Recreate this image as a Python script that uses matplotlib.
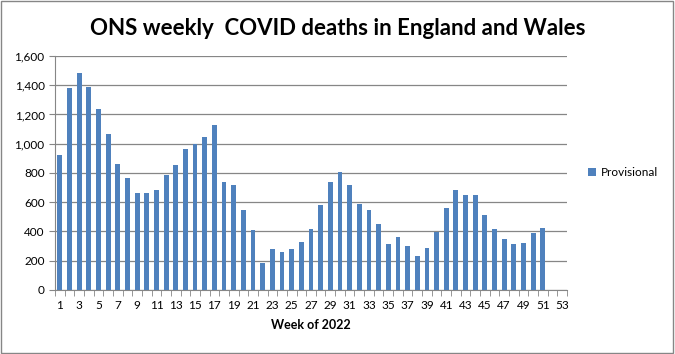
import numpy as np
import matplotlib.pyplot as plt
from matplotlib.patches import Rectangle

plt.rcParams['font.family'] = ['Lato', 'DejaVu Sans']

weeks = list(range(1, 54))
deaths = [920, 1378, 1480, 1385, 1235, 1063, 858, 763, 665, 665,
          680, 783, 852, 962, 1000, 1043, 1125, 735, 720, 548,
          410, 183, 280, 260, 280, 330, 418, 582, 738, 805,
          716, 588, 547, 451, 315, 362, 301, 232, 287, 399,
          561, 684, 650, 650, 513, 417, 349, 315, 321, 390,
          422]
yticks = [0, 200, 400, 600, 800, 1000, 1200, 1400, 1600]

fig = plt.figure(figsize=(6.75, 3.54), dpi=100)
ax = fig.add_axes([0.0815, 0.181, 0.7585, 0.661])

ax.bar(weeks[:len(deaths)], deaths, width=0.5, color='#4f81bd', zorder=3,
       label='Provisional')

ax.set_xlim(0.5, 53.5)
ax.set_ylim(0, 1600)
ax.set_yticks(yticks)
ax.set_yticklabels([f'{v:,}' for v in yticks])
ax.yaxis.grid(True, color='#868686', linewidth=0.9, zorder=0)

ax.set_xticks(weeks[::2])
ax.set_xticks(np.arange(0.5, 54, 1), minor=True)
ax.tick_params(axis='x', which='major', length=0, pad=7, labelsize=8.5)
ax.tick_params(axis='x', which='minor', length=4, color='#868686')
ax.tick_params(axis='y', length=4, color='#868686', labelsize=8.5)

for s in ['top', 'right']:
    ax.spines[s].set_visible(False)
ax.spines['left'].set_color('#868686')
ax.spines['bottom'].set_color('#868686')

ax.set_xlabel('Week of 2022', fontsize=9, fontweight='bold', labelpad=6)
fig.suptitle('ONS weekly  COVID deaths in England and Wales', fontsize=16,
             fontweight='bold', y=0.95)

ax.legend(loc='center left', bbox_to_anchor=(1.02, 0.5), frameon=False,
          fontsize=8.5, handlelength=0.7, handleheight=0.7, handletextpad=0.4)

fig.patches.append(Rectangle((0.002, 0.003), 0.995, 0.993, transform=fig.transFigure,
                             fill=False, edgecolor='#868686', linewidth=1))

fig.savefig('out.png', dpi=100)
